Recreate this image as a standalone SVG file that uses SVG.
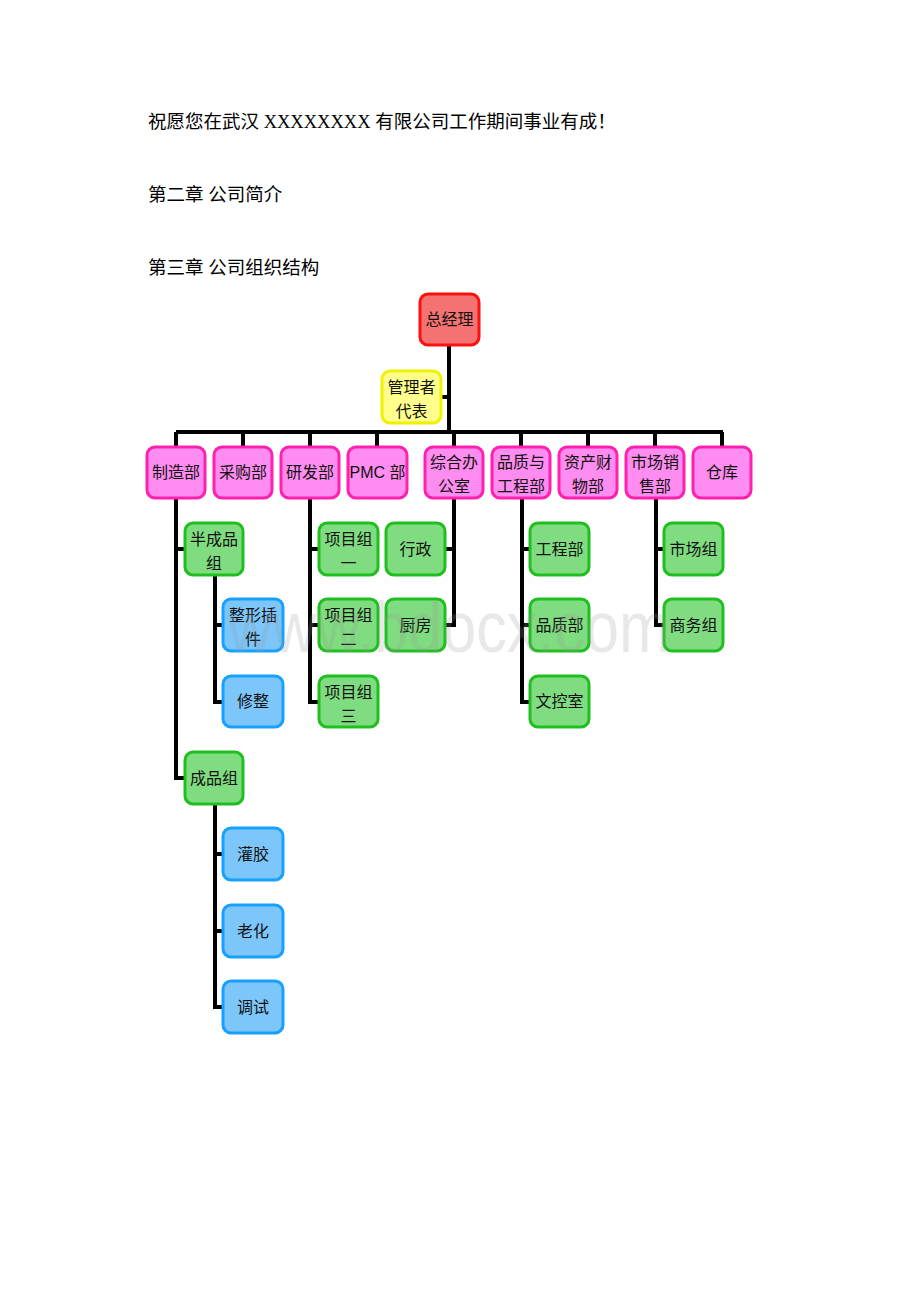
<svg xmlns="http://www.w3.org/2000/svg" width="920" height="1302" viewBox="0 0 920 1302">
<style>
.hd{font-family:"Liberation Serif","Noto Sans CJK SC",serif;font-size:18.5px;fill:#000}
.t{font-family:"Liberation Serif","Noto Sans CJK SC",serif;font-size:16px;fill:#111;text-anchor:middle}
.ts{font-family:"Liberation Sans","Noto Sans CJK SC",sans-serif;font-size:16px;fill:#111;text-anchor:middle}
.box{stroke-width:3}
.red{fill:#f47272;stroke:#ff1010}
.yel{fill:#ffff8c;stroke:#f0f000}
.mag{fill:#ff8cf0;stroke:#ff20b0}
.grn{fill:#80dc80;stroke:#1fbf1f}
.blu{fill:#7cc6fa;stroke:#18a0ff}
.ln{stroke:#000;stroke-width:4;fill:none}
</style>
<rect width="920" height="1302" fill="#fff"/>
<text class="hd" x="148" y="128">祝愿您在武汉 XXXXXXXX 有限公司工作期间事业有成！</text>
<text class="hd" x="148" y="201">第二章 公司简介</text>
<text class="hd" x="148" y="274">第三章 公司组织结构</text>

<g id="connectors">
<path class="ln" d="M449 345 V432 M441 397 H449 M176 432 H723"/>
<path class="ln" d="M176 432 V447 M243 432 V447 M310 432 V447 M377 432 V447 M454 432 V447 M521 432 V447 M588 432 V447 M655 432 V447 M722 432 V447"/>
<path class="ln" d="M176 498 V778 H185 M176 549 H185"/>
<path class="ln" d="M215 575 V702 H223 M215 625 H223"/>
<path class="ln" d="M215 804 V1007 H223 M215 854 H223 M215 931 H223"/>
<path class="ln" d="M310 498 V702 H319 M310 549 H319 M310 625 H319"/>
<path class="ln" d="M454 498 V625 H445 M454 549 H445"/>
<path class="ln" d="M522 498 V702 H530 M522 549 H530 M522 625 H530"/>
<path class="ln" d="M656 498 V625 H664 M656 549 H664"/>
</g>

<g id="n-zjl"><rect class="box red" x="420" y="294" width="59" height="51" rx="8"/><text class="t" x="449.5" y="325">总经理</text></g>
<g id="n-gldb"><rect class="box yel" x="382" y="371" width="59" height="52" rx="8"/><text class="t" x="411.5" y="393">管理者</text><text class="t" x="411.5" y="417">代表</text></g>

<g id="n-zzb"><rect class="box mag" x="147" y="447" width="58" height="51" rx="8"/><text class="t" x="176" y="478">制造部</text></g>
<g id="n-cgb"><rect class="box mag" x="214" y="447" width="58" height="51" rx="8"/><text class="t" x="243" y="478">采购部</text></g>
<g id="n-yfb"><rect class="box mag" x="281" y="447" width="58" height="51" rx="8"/><text class="t" x="310" y="478">研发部</text></g>
<g id="n-pmc"><rect class="box mag" x="348" y="447" width="59" height="51" rx="8"/><text class="ts" x="377.5" y="478">PMC 部</text></g>
<g id="n-zhbgs"><rect class="box mag" x="425" y="447" width="58" height="51" rx="8"/><text class="t" x="454" y="468">综合办</text><text class="t" x="454" y="492">公室</text></g>
<g id="n-pzgcb"><rect class="box mag" x="492" y="447" width="58" height="51" rx="8"/><text class="t" x="521" y="468">品质与</text><text class="t" x="521" y="492">工程部</text></g>
<g id="n-zccwb"><rect class="box mag" x="559" y="447" width="58" height="51" rx="8"/><text class="t" x="588" y="468">资产财</text><text class="t" x="588" y="492">物部</text></g>
<g id="n-scxsb"><rect class="box mag" x="626" y="447" width="58" height="51" rx="8"/><text class="t" x="655" y="468">市场销</text><text class="t" x="655" y="492">售部</text></g>
<g id="n-ck"><rect class="box mag" x="693" y="447" width="58" height="51" rx="8"/><text class="t" x="722" y="478">仓库</text></g>

<g id="n-bcpz"><rect class="box grn" x="185" y="523" width="58" height="52" rx="8"/><text class="t" x="214" y="545">半成品</text><text class="t" x="214" y="569">组</text></g>
<g id="n-zxcj"><rect class="box blu" x="223" y="599" width="60" height="52" rx="8"/><text class="t" x="253" y="621">整形插</text><text class="t" x="253" y="645">件</text></g>
<g id="n-xz"><rect class="box blu" x="223" y="676" width="60" height="51" rx="8"/><text class="t" x="253" y="707">修整</text></g>
<g id="n-cpz"><rect class="box grn" x="185" y="752" width="58" height="52" rx="8"/><text class="t" x="214" y="784">成品组</text></g>
<g id="n-gj"><rect class="box blu" x="223" y="828" width="60" height="52" rx="8"/><text class="t" x="253" y="860">灌胶</text></g>
<g id="n-lh"><rect class="box blu" x="223" y="905" width="60" height="52" rx="8"/><text class="t" x="253" y="937">老化</text></g>
<g id="n-ts"><rect class="box blu" x="223" y="981" width="60" height="52" rx="8"/><text class="t" x="253" y="1013">调试</text></g>

<g id="n-xmz1"><rect class="box grn" x="319" y="523" width="59" height="52" rx="8"/><text class="t" x="348.5" y="545">项目组</text><text class="t" x="348.5" y="569">一</text></g>
<g id="n-xmz2"><rect class="box grn" x="319" y="599" width="59" height="52" rx="8"/><text class="t" x="348.5" y="621">项目组</text><text class="t" x="348.5" y="645">二</text></g>
<g id="n-xmz3"><rect class="box grn" x="319" y="676" width="59" height="51" rx="8"/><text class="t" x="348.5" y="698">项目组</text><text class="t" x="348.5" y="722">三</text></g>

<g id="n-xingz"><rect class="box grn" x="386" y="523" width="59" height="52" rx="8"/><text class="t" x="415.5" y="555">行政</text></g>
<g id="n-cf"><rect class="box grn" x="386" y="599" width="59" height="52" rx="8"/><text class="t" x="415.5" y="631">厨房</text></g>

<g id="n-gcb"><rect class="box grn" x="530" y="523" width="59" height="52" rx="8"/><text class="t" x="559.5" y="555">工程部</text></g>
<g id="n-pzb"><rect class="box grn" x="530" y="599" width="59" height="52" rx="8"/><text class="t" x="559.5" y="631">品质部</text></g>
<g id="n-wks"><rect class="box grn" x="530" y="676" width="59" height="51" rx="8"/><text class="t" x="559.5" y="707">文控室</text></g>

<g id="n-scz"><rect class="box grn" x="664" y="523" width="59" height="52" rx="8"/><text class="t" x="693.5" y="555">市场组</text></g>
<g id="n-swz"><rect class="box grn" x="664" y="599" width="59" height="52" rx="8"/><text class="t" x="693.5" y="631">商务组</text></g>

<text x="228" y="652" font-family="Liberation Sans, sans-serif" font-size="72" fill="#999" opacity="0.22" textLength="442" lengthAdjust="spacingAndGlyphs">www.bdocx.com</text>
</svg>
